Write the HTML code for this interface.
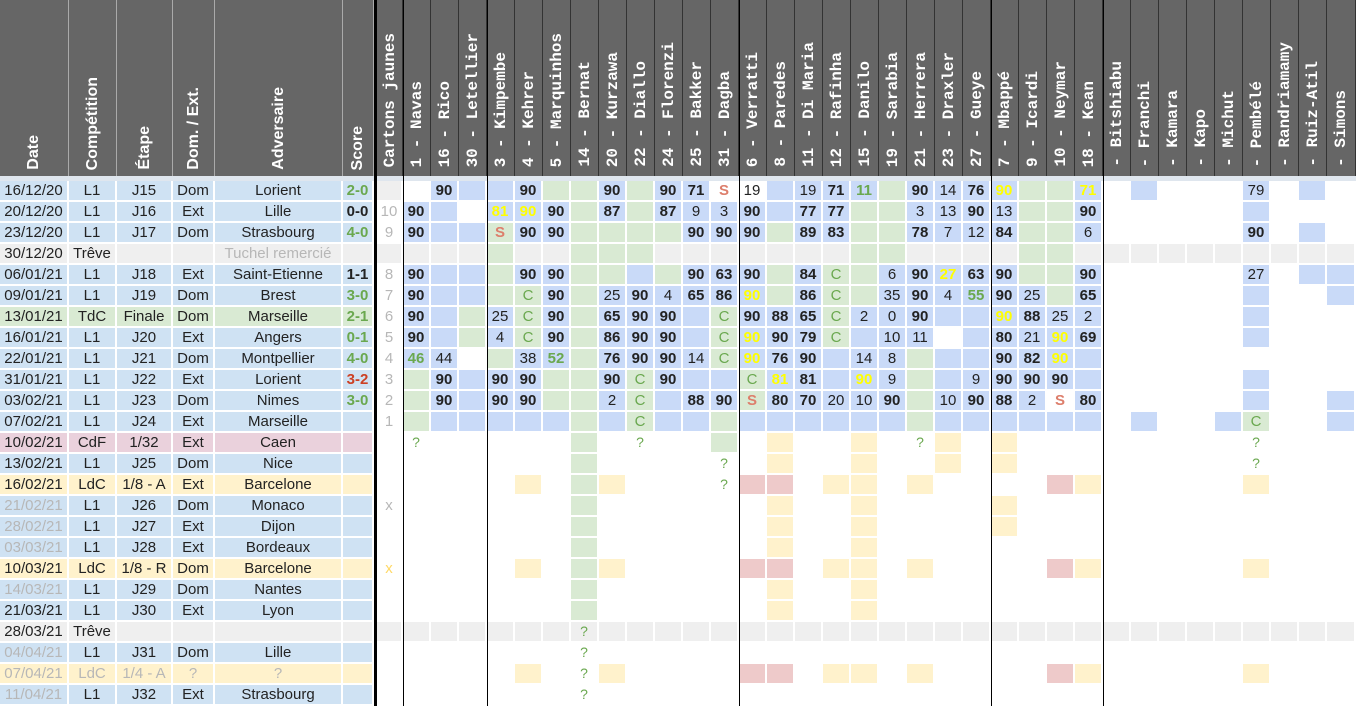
<!DOCTYPE html>
<html><head><meta charset="utf-8">
<style>
body{margin:0;width:1356px;height:706px;overflow:hidden;background:#fff;font-family:"Liberation Sans",Arial,sans-serif;position:relative}
#hd{position:absolute;top:0;left:0;height:176px;width:1356px;background:#666;display:flex}
.h{height:176px;flex:none;border-right:1px solid #aaa;box-sizing:border-box;display:flex;align-items:flex-end;justify-content:center;padding-bottom:6px}
.h span{writing-mode:vertical-rl;transform:rotate(180deg);color:#fff;font-weight:bold;font-size:16px;white-space:nowrap}
.p{border-right:1px solid #333;padding-bottom:9px}
.p span{font-family:"Liberation Mono",monospace;font-size:16px}
#strip{position:absolute;top:176px;left:0;width:1356px;height:5px;background:#dfe6ee}
.gr{position:absolute;top:181px;display:grid;grid-auto-rows:21px}
#lg{left:0;grid-template-columns:69px 48px 56px 42px 128px 31px}
#rg{left:377px;grid-template-columns:26px repeat(33,28px) 29px}
i{display:block;font-style:normal;border-right:2px solid #fff;border-bottom:2px solid #fff;box-sizing:border-box;text-align:center;line-height:19px;font-size:15px;color:#222;overflow:hidden;white-space:nowrap}
.b{background:#c9daf8}.g{background:#d9ead3}.y{background:#fff2cc}.r{background:#eecaca}.e{background:#efefef}
.lb{background:#cfe2f3}.lg{background:#d9ead3}.lp{background:#ead1dc}.ly{background:#fff2cc}
.k{font-weight:bold}.yt{font-weight:bold;color:#ffff00}.gt{font-weight:bold;color:#6aa84f}
.c{color:#6aa84f}.s{font-weight:bold;color:#dd7e6b}.q{color:#6aa84f;font-size:14px}
.m{color:#b7b7b7}.xy{color:#ffd966}.rd{font-weight:bold;color:#cc4125}.gy{color:#b7b7b7}
.s2{grid-column:span 2}.s3{grid-column:span 3}.s4{grid-column:span 4}.s5{grid-column:span 5}.s6{grid-column:span 6}.s8{grid-column:span 8}.s9{grid-column:span 9}.s12{grid-column:span 12}.s17{grid-column:span 17}.s27{grid-column:span 27}
.vl{position:absolute;top:0;height:706px;width:1px;background:#000}
.ovf{overflow:visible}
</style></head><body>
<div id="hd">
<div class="h" style="width:69px"><span>Date</span></div>
<div class="h" style="width:48px"><span>Compétition</span></div>
<div class="h" style="width:56px"><span>Étape</span></div>
<div class="h" style="width:42px"><span>Dom. / Ext.</span></div>
<div class="h" style="width:128px"><span>Adversaire</span></div>
<div class="h" style="width:31px"><span>Score</span></div>
<div class="h" style="width:3px;background:#000;border:0"></div>
<div class="h p" style="width:26px"><span>Cartons jaunes</span></div>
<div class="h p" style="width:28px"><span>1 - Navas</span></div>
<div class="h p" style="width:28px"><span>16 - Rico</span></div>
<div class="h p" style="width:28px"><span>30 - Letellier</span></div>
<div class="h p" style="width:28px"><span>3 - Kimpembe</span></div>
<div class="h p" style="width:28px"><span>4 - Kehrer</span></div>
<div class="h p" style="width:28px"><span>5 - Marquinhos</span></div>
<div class="h p" style="width:28px"><span>14 - Bernat</span></div>
<div class="h p" style="width:28px"><span>20 - Kurzawa</span></div>
<div class="h p" style="width:28px"><span>22 - Diallo</span></div>
<div class="h p" style="width:28px"><span>24 - Florenzi</span></div>
<div class="h p" style="width:28px"><span>25 - Bakker</span></div>
<div class="h p" style="width:28px"><span>31 - Dagba</span></div>
<div class="h p" style="width:28px"><span>6 - Verratti</span></div>
<div class="h p" style="width:28px"><span>8 - Paredes</span></div>
<div class="h p" style="width:28px"><span>11 - Di Maria</span></div>
<div class="h p" style="width:28px"><span>12 - Rafinha</span></div>
<div class="h p" style="width:28px"><span>15 - Danilo</span></div>
<div class="h p" style="width:28px"><span>19 - Sarabia</span></div>
<div class="h p" style="width:28px"><span>21 - Herrera</span></div>
<div class="h p" style="width:28px"><span>23 - Draxler</span></div>
<div class="h p" style="width:28px"><span>27 - Gueye</span></div>
<div class="h p" style="width:28px"><span>7 - Mbappé</span></div>
<div class="h p" style="width:28px"><span>9 - Icardi</span></div>
<div class="h p" style="width:28px"><span>10 - Neymar</span></div>
<div class="h p" style="width:28px"><span>18 - Kean</span></div>
<div class="h p" style="width:28px"><span>- Bitshiabu</span></div>
<div class="h p" style="width:28px"><span>- Franchi</span></div>
<div class="h p" style="width:28px"><span>- Kamara</span></div>
<div class="h p" style="width:28px"><span>- Kapo</span></div>
<div class="h p" style="width:28px"><span>- Michut</span></div>
<div class="h p" style="width:28px"><span>- Pembélé</span></div>
<div class="h p" style="width:28px"><span>- Randriamamy</span></div>
<div class="h p" style="width:28px"><span>- Ruiz-Atil</span></div>
<div class="h p" style="width:29px"><span>- Simons</span></div>
</div>
<div id="strip"></div>

<div id="lg" class="gr">
<i class="lb">16/12/20</i><i class="lb">L1</i><i class="lb">J15</i><i class="lb">Dom</i><i class="lb">Lorient</i><i class="lb gt">2-0</i>
<i class="lb">20/12/20</i><i class="lb">L1</i><i class="lb">J16</i><i class="lb">Ext</i><i class="lb">Lille</i><i class="lb k">0-0</i>
<i class="lb">23/12/20</i><i class="lb">L1</i><i class="lb">J17</i><i class="lb">Dom</i><i class="lb">Strasbourg</i><i class="lb gt">4-0</i>
<i class="e">30/12/20</i><i class="e ovf">Trêve</i><i class="e"></i><i class="e"></i><i class="e gy">Tuchel remercié</i><i class="e"></i>
<i class="lb">06/01/21</i><i class="lb">L1</i><i class="lb">J18</i><i class="lb">Ext</i><i class="lb">Saint-Etienne</i><i class="lb k">1-1</i>
<i class="lb">09/01/21</i><i class="lb">L1</i><i class="lb">J19</i><i class="lb">Dom</i><i class="lb">Brest</i><i class="lb gt">3-0</i>
<i class="lg">13/01/21</i><i class="lg">TdC</i><i class="lg">Finale</i><i class="lg">Dom</i><i class="lg">Marseille</i><i class="lg gt">2-1</i>
<i class="lb">16/01/21</i><i class="lb">L1</i><i class="lb">J20</i><i class="lb">Ext</i><i class="lb">Angers</i><i class="lb gt">0-1</i>
<i class="lb">22/01/21</i><i class="lb">L1</i><i class="lb">J21</i><i class="lb">Dom</i><i class="lb">Montpellier</i><i class="lb gt">4-0</i>
<i class="lb">31/01/21</i><i class="lb">L1</i><i class="lb">J22</i><i class="lb">Ext</i><i class="lb">Lorient</i><i class="lb rd">3-2</i>
<i class="lb">03/02/21</i><i class="lb">L1</i><i class="lb">J23</i><i class="lb">Dom</i><i class="lb">Nimes</i><i class="lb gt">3-0</i>
<i class="lb">07/02/21</i><i class="lb">L1</i><i class="lb">J24</i><i class="lb">Ext</i><i class="lb">Marseille</i><i class="lb"></i>
<i class="lp">10/02/21</i><i class="lp">CdF</i><i class="lp">1/32</i><i class="lp">Ext</i><i class="lp">Caen</i><i class="lp"></i>
<i class="lb">13/02/21</i><i class="lb">L1</i><i class="lb">J25</i><i class="lb">Dom</i><i class="lb">Nice</i><i class="lb"></i>
<i class="ly">16/02/21</i><i class="ly">LdC</i><i class="ly">1/8 - A</i><i class="ly">Ext</i><i class="ly">Barcelone</i><i class="ly"></i>
<i class="lb gy">21/02/21</i><i class="lb">L1</i><i class="lb">J26</i><i class="lb">Dom</i><i class="lb">Monaco</i><i class="lb"></i>
<i class="lb gy">28/02/21</i><i class="lb">L1</i><i class="lb">J27</i><i class="lb">Ext</i><i class="lb">Dijon</i><i class="lb"></i>
<i class="lb gy">03/03/21</i><i class="lb">L1</i><i class="lb">J28</i><i class="lb">Ext</i><i class="lb">Bordeaux</i><i class="lb"></i>
<i class="ly">10/03/21</i><i class="ly">LdC</i><i class="ly">1/8 - R</i><i class="ly">Dom</i><i class="ly">Barcelone</i><i class="ly"></i>
<i class="lb gy">14/03/21</i><i class="lb">L1</i><i class="lb">J29</i><i class="lb">Dom</i><i class="lb">Nantes</i><i class="lb"></i>
<i class="lb">21/03/21</i><i class="lb">L1</i><i class="lb">J30</i><i class="lb">Ext</i><i class="lb">Lyon</i><i class="lb"></i>
<i class="e">28/03/21</i><i class="e ovf">Trêve</i><i class="e"></i><i class="e"></i><i class="e"></i><i class="e"></i>
<i class="lb gy">04/04/21</i><i class="lb">L1</i><i class="lb">J31</i><i class="lb">Dom</i><i class="lb">Lille</i><i class="lb"></i>
<i class="ly gy">07/04/21</i><i class="ly gy">LdC</i><i class="ly gy">1/4 - A</i><i class="ly gy">?</i><i class="ly gy">?</i><i class="ly"></i>
<i class="lb gy">11/04/21</i><i class="lb">L1</i><i class="lb">J32</i><i class="lb">Ext</i><i class="lb">Strasbourg</i><i class="lb"></i>
</div>

<div id="rg" class="gr">
<i class="e"></i><i></i><i class="b k">90</i><i class="b"></i><i class="b"></i><i class="b k">90</i><i class="g"></i><i class="g"></i><i class="b k">90</i><i class="g"></i><i class="b k">90</i><i class="b k">71</i><i class="s">S</i><i>19</i><i class="b"></i><i class="b">19</i><i class="b k">71</i><i class="b gt">11</i><i class="g"></i><i class="b k">90</i><i class="b">14</i><i class="b k">76</i><i class="b yt">90</i><i class="g"></i><i class="g"></i><i class="b yt">71</i><i></i><i class="b"></i><i class="s3"></i><i class="b">79</i><i></i><i class="b"></i><i></i>
<i class="m">10</i><i class="b k">90</i><i class="b"></i><i></i><i class="b yt">81</i><i class="b yt">90</i><i class="b k">90</i><i class="g"></i><i class="b k">87</i><i class="g"></i><i class="b k">87</i><i class="b">9</i><i class="b">3</i><i class="b k">90</i><i class="b"></i><i class="b k">77</i><i class="b k">77</i><i class="g"></i><i class="g"></i><i class="b">3</i><i class="b">13</i><i class="b k">90</i><i class="b">13</i><i class="g"></i><i class="g"></i><i class="b k">90</i><i class="s5"></i><i class="b"></i><i class="s3"></i>
<i class="m">9</i><i class="b k">90</i><i class="b"></i><i class="b"></i><i class="g s">S</i><i class="b k">90</i><i class="b k">90</i><i class="g"></i><i class="g"></i><i class="g"></i><i class="g"></i><i class="b k">90</i><i class="b k">90</i><i class="b k">90</i><i class="g"></i><i class="b k">89</i><i class="b k">83</i><i class="g"></i><i class="g"></i><i class="b k">78</i><i class="b">7</i><i class="b">12</i><i class="b k">84</i><i class="g"></i><i class="g"></i><i class="b">6</i><i class="s5"></i><i class="b k">90</i><i></i><i class="b"></i><i></i>
<i class="e"></i><i class="e"></i><i class="e"></i><i class="e"></i><i class="g"></i><i class="e"></i><i class="e"></i><i class="g"></i><i class="g"></i><i class="g"></i><i class="e"></i><i class="e"></i><i class="e"></i><i class="e"></i><i class="e"></i><i class="e"></i><i class="e"></i><i class="g"></i><i class="g"></i><i class="e"></i><i class="e"></i><i class="e"></i><i class="e"></i><i class="g"></i><i class="g"></i><i class="e"></i><i class="e"></i><i class="e"></i><i class="e"></i><i class="e"></i><i class="e"></i><i class="e"></i><i class="e"></i><i class="e"></i><i class="e"></i>
<i class="m">8</i><i class="b k">90</i><i class="b"></i><i class="b"></i><i class="g"></i><i class="b k">90</i><i class="b k">90</i><i class="g"></i><i class="g"></i><i class="b"></i><i class="g"></i><i class="b k">90</i><i class="b k">63</i><i class="b k">90</i><i class="g"></i><i class="b k">84</i><i class="g c">C</i><i class="g"></i><i class="b">6</i><i class="b k">90</i><i class="b yt">27</i><i class="b k">63</i><i class="b k">90</i><i class="g"></i><i class="g"></i><i class="b k">90</i><i class="s5"></i><i class="b">27</i><i></i><i class="b"></i><i class="b"></i>
<i class="m">7</i><i class="b k">90</i><i class="b"></i><i class="b"></i><i class="g"></i><i class="g c">C</i><i class="b k">90</i><i class="g"></i><i class="b">25</i><i class="b k">90</i><i class="b">4</i><i class="b k">65</i><i class="b k">86</i><i class="b yt">90</i><i class="g"></i><i class="b k">86</i><i class="g c">C</i><i class="g"></i><i class="b">35</i><i class="b k">90</i><i class="b">4</i><i class="b gt">55</i><i class="b k">90</i><i class="b">25</i><i class="g"></i><i class="b k">65</i><i class="s5"></i><i class="b"></i><i class="s2"></i><i class="b"></i>
<i class="m">6</i><i class="b k">90</i><i class="b"></i><i class="g"></i><i class="b">25</i><i class="g c">C</i><i class="b k">90</i><i class="g"></i><i class="b k">65</i><i class="b k">90</i><i class="b k">90</i><i class="b"></i><i class="g c">C</i><i class="b k">90</i><i class="b k">88</i><i class="b k">65</i><i class="g c">C</i><i class="b">2</i><i class="b">0</i><i class="b k">90</i><i class="b"></i><i class="b"></i><i class="b yt">90</i><i class="b k">88</i><i class="b">25</i><i class="b">2</i><i class="s5"></i><i class="b"></i><i class="s3"></i>
<i class="m">5</i><i class="b k">90</i><i class="b"></i><i class="g"></i><i class="b">4</i><i class="g c">C</i><i class="b k">90</i><i class="g"></i><i class="b k">86</i><i class="b k">90</i><i class="b k">90</i><i class="b"></i><i class="g c">C</i><i class="b yt">90</i><i class="b k">90</i><i class="b k">79</i><i class="g c">C</i><i class="b"></i><i class="b">10</i><i class="b">11</i><i></i><i class="b"></i><i class="b k">80</i><i class="b">21</i><i class="b yt">90</i><i class="b k">69</i><i class="s5"></i><i class="b"></i><i class="s3"></i>
<i class="m">4</i><i class="b gt">46</i><i class="b">44</i><i></i><i class="g"></i><i class="b">38</i><i class="b gt">52</i><i class="g"></i><i class="b k">76</i><i class="b k">90</i><i class="b k">90</i><i class="b">14</i><i class="g c">C</i><i class="b yt">90</i><i class="b k">76</i><i class="b k">90</i><i class="b"></i><i class="b">14</i><i class="b">8</i><i class="g"></i><i class="b"></i><i class="b"></i><i class="b k">90</i><i class="b k">82</i><i class="b yt">90</i><i class="b"></i><i class="s9"></i>
<i class="m">3</i><i class="g"></i><i class="b k">90</i><i class="b"></i><i class="b k">90</i><i class="b k">90</i><i class="g"></i><i class="g"></i><i class="b k">90</i><i class="g c">C</i><i class="b k">90</i><i class="b"></i><i class="b"></i><i class="g c">C</i><i class="b yt">81</i><i class="b k">81</i><i class="b"></i><i class="b yt">90</i><i class="b">9</i><i class="g"></i><i class="b"></i><i class="b">9</i><i class="b k">90</i><i class="b k">90</i><i class="b k">90</i><i class="b"></i><i class="s5"></i><i class="b"></i><i class="s3"></i>
<i class="m">2</i><i class="g"></i><i class="b k">90</i><i class="b"></i><i class="b k">90</i><i class="b k">90</i><i class="g"></i><i class="g"></i><i class="b">2</i><i class="g c">C</i><i class="b"></i><i class="b k">88</i><i class="b k">90</i><i class="g s">S</i><i class="b k">80</i><i class="b k">70</i><i class="b">20</i><i class="b">10</i><i class="b k">90</i><i class="g"></i><i class="b">10</i><i class="b k">90</i><i class="b k">88</i><i class="b">2</i><i class="s">S</i><i class="b k">80</i><i class="s5"></i><i class="b"></i><i class="s2"></i><i class="b"></i>
<i class="m">1</i><i class="g"></i><i class="b"></i><i class="b"></i><i class="b"></i><i class="b"></i><i class="b"></i><i class="g"></i><i class="b"></i><i class="g c">C</i><i class="b"></i><i class="b"></i><i class="g"></i><i class="b"></i><i class="b"></i><i class="b"></i><i class="b"></i><i class="b"></i><i class="b"></i><i class="g"></i><i class="b"></i><i class="b"></i><i class="b"></i><i class="b"></i><i class="b"></i><i class="b"></i><i></i><i class="b"></i><i class="s2"></i><i class="b"></i><i class="g c">C</i><i class="s2"></i><i class="b"></i>
<i></i><i class="q">?</i><i class="s5"></i><i class="g"></i><i></i><i class="q">?</i><i class="s2"></i><i class="g"></i><i></i><i class="y"></i><i class="s2"></i><i class="y"></i><i></i><i class="q">?</i><i class="y"></i><i></i><i class="y"></i><i class="s8"></i><i class="q">?</i><i class="s3"></i>
<i></i><i class="s6"></i><i class="g"></i><i class="s4"></i><i class="q">?</i><i></i><i class="y"></i><i class="s2"></i><i class="y"></i><i class="s2"></i><i class="y"></i><i></i><i class="y"></i><i class="s8"></i><i class="q">?</i><i class="s3"></i>
<i></i><i class="s4"></i><i class="y"></i><i></i><i class="g"></i><i class="y"></i><i class="s3"></i><i class="q">?</i><i class="r"></i><i class="r"></i><i></i><i class="y"></i><i class="y"></i><i></i><i class="y"></i><i class="s4"></i><i class="r"></i><i class="y"></i><i class="s5"></i><i class="y"></i><i class="s3"></i>
<i class="m">x</i><i class="s6"></i><i class="g"></i><i class="s6"></i><i class="y"></i><i class="s2"></i><i class="y"></i><i class="s4"></i><i class="y"></i><i class="s12"></i>
<i></i><i class="s6"></i><i class="g"></i><i class="s6"></i><i class="y"></i><i class="s2"></i><i class="y"></i><i class="s4"></i><i class="y"></i><i class="s12"></i>
<i></i><i class="s6"></i><i class="g"></i><i class="s6"></i><i class="y"></i><i class="s2"></i><i class="y"></i><i class="s17"></i>
<i class="xy">x</i><i class="s4"></i><i class="y"></i><i></i><i class="g"></i><i class="y"></i><i class="s3"></i><i></i><i class="r"></i><i class="r"></i><i></i><i class="y"></i><i class="y"></i><i></i><i class="y"></i><i class="s4"></i><i class="r"></i><i class="y"></i><i class="s5"></i><i class="y"></i><i class="s3"></i>
<i></i><i class="s6"></i><i class="g"></i><i class="s6"></i><i class="y"></i><i class="s2"></i><i class="y"></i><i class="s17"></i>
<i></i><i class="s6"></i><i class="g"></i><i class="s6"></i><i class="y"></i><i class="s2"></i><i class="y"></i><i class="s17"></i>
<i class="e"></i><i class="e"></i><i class="e"></i><i class="e"></i><i class="e"></i><i class="e"></i><i class="e"></i><i class="e q">?</i><i class="e"></i><i class="e"></i><i class="e"></i><i class="e"></i><i class="e"></i><i class="e"></i><i class="e"></i><i class="e"></i><i class="e"></i><i class="e"></i><i class="e"></i><i class="e"></i><i class="e"></i><i class="e"></i><i class="e"></i><i class="e"></i><i class="e"></i><i class="e"></i><i class="e"></i><i class="e"></i><i class="e"></i><i class="e"></i><i class="e"></i><i class="e"></i><i class="e"></i><i class="e"></i><i class="e"></i>
<i></i><i class="s6"></i><i class="q">?</i><i class="s27"></i>
<i></i><i class="s4"></i><i class="y"></i><i></i><i class="q">?</i><i class="y"></i><i class="s3"></i><i></i><i class="r"></i><i class="r"></i><i></i><i class="y"></i><i class="y"></i><i></i><i class="y"></i><i class="s4"></i><i class="r"></i><i class="y"></i><i class="s5"></i><i class="y"></i><i class="s3"></i>
<i></i><i class="s6"></i><i class="q">?</i><i class="s27"></i>
</div>

<div class="vl" style="left:374px;width:3px"></div>
<div class="vl" style="left:403px"></div>
<div class="vl" style="left:487px"></div>
<div class="vl" style="left:739px"></div>
<div class="vl" style="left:991px"></div>
<div class="vl" style="left:1103px"></div>
</body></html>
